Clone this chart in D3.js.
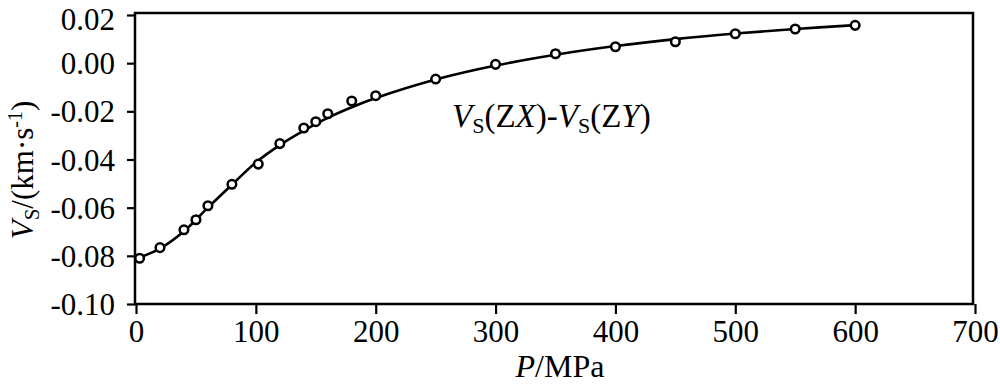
<!DOCTYPE html>
<html>
<head>
<meta charset="utf-8">
<script src="https://cdn.jsdelivr.net/npm/d3@7"></script>
<style>
  html, body { margin: 0; padding: 0; background: #fff; }
  svg { display: block; }
  text { font-family: "Liberation Serif", "Times New Roman", serif; fill: #000; }
</style>
</head>
<body>
<svg id="chart" width="1000" height="388"></svg>
<script>
// Measured points: pressure (MPa) and Vs(ZX)-Vs(ZY) (km/s)
const pressure = [3, 20, 40, 50, 60, 80, 102, 120, 140, 150, 160, 180, 200, 250, 300, 350, 400, 450, 500, 550, 600];
const vsDiff = [-0.0810, -0.0766, -0.0692, -0.0650, -0.0592, -0.0503, -0.0419, -0.0334, -0.0269, -0.0243, -0.0210, -0.0157, -0.0135, -0.0066, -0.0005, 0.0039, 0.0068, 0.0089, 0.0122, 0.0142, 0.0157];

// Fitted curve
const curveP = [0, 20, 40, 60, 80, 100, 120, 140, 160, 180, 200, 250, 300, 350, 400, 450, 500, 550, 600];
const curveV = [-0.0812, -0.0770, -0.0698, -0.0600, -0.0505, -0.0412, -0.0340, -0.0280, -0.0227, -0.0183, -0.0145, -0.0068, -0.0010, 0.0035, 0.0071, 0.0100, 0.0123, 0.0142, 0.0158];

const xTicks = [0, 100, 200, 300, 400, 500, 600, 700];
const yTicks = [-0.10, -0.08, -0.06, -0.04, -0.02, 0.00, 0.02];

const svg = d3.select("#chart");
const frameL = 135, frameR = 973, frameT = 13, frameB = 304;

const x = d3.scaleLinear().domain([0, 700]).range([136, 975]);
const y = d3.scaleLinear().domain([-0.10, 0.02]).range([304, 15]);

// Frame
svg.append("rect")
  .attr("x", frameL).attr("y", frameT)
  .attr("width", frameR - frameL).attr("height", frameB - frameT)
  .attr("fill", "none").attr("stroke", "#000").attr("stroke-width", 2.5);

// X axis
const xAxis = svg.append("g")
  .attr("transform", `translate(0,${frameB})`)
  .call(d3.axisBottom(x).tickValues(xTicks).tickSize(10).tickPadding(6).tickFormat(d3.format("d")));
xAxis.select(".domain").remove();
xAxis.selectAll(".tick line").attr("stroke", "#000").attr("stroke-width", 2.2);
xAxis.selectAll(".tick text")
  .attr("font-size", 31)
  .attr("font-family", '"Liberation Serif", "Times New Roman", serif')
  .attr("dy", "0.71em");

// Y axis
const yAxis = svg.append("g")
  .attr("transform", `translate(${frameL},0)`)
  .call(d3.axisLeft(y).tickValues(yTicks).tickSize(8).tickPadding(12).tickFormat(d3.format(".2f")));
yAxis.select(".domain").remove();
yAxis.selectAll(".tick line").attr("stroke", "#000").attr("stroke-width", 2.2);
yAxis.selectAll(".tick text")
  .attr("font-size", 31)
  .attr("font-family", '"Liberation Serif", "Times New Roman", serif')
  .attr("dy", d => d === 0.02 ? 14 : 10.5)
  .text(d => d3.format(".2f")(d).replace("−", "-"));

// Curve
const line = d3.line()
  .x((d, i) => x(curveP[i]))
  .y((d, i) => y(curveV[i]))
  .curve(d3.curveCatmullRom.alpha(0.5));
svg.append("path")
  .datum(curveV)
  .attr("d", line)
  .attr("fill", "none")
  .attr("stroke", "#000")
  .attr("stroke-width", 2.6);

// Points
svg.append("g").selectAll("circle")
  .data(vsDiff)
  .join("circle")
  .attr("cx", (d, i) => x(pressure[i]))
  .attr("cy", d => y(d))
  .attr("r", 4.3)
  .attr("fill", "#fff")
  .attr("stroke", "#000")
  .attr("stroke-width", 2.5);

// Annotation
const ann = svg.append("text")
  .attr("x", 452).attr("y", 127)
  .attr("font-size", 33);
ann.append("tspan").attr("font-style", "italic").text("V");
ann.append("tspan").attr("font-size", 22).attr("dy", 6).text("S");
ann.append("tspan").attr("dy", -6).text("(Z");
ann.append("tspan").attr("font-style", "italic").text("X");
ann.append("tspan").text(")-");
ann.append("tspan").attr("font-style", "italic").text("V");
ann.append("tspan").attr("font-size", 22).attr("dy", 6).text("S");
ann.append("tspan").attr("dy", -6).text("(Z");
ann.append("tspan").attr("font-style", "italic").text("Y");
ann.append("tspan").text(")");

// X title
const xt = svg.append("text")
  .attr("x", 560).attr("y", 377)
  .attr("text-anchor", "middle")
  .attr("font-size", 32);
xt.append("tspan").attr("font-style", "italic").text("P");
xt.append("tspan").text("/MPa");

// Y title
const yt = svg.append("text")
  .attr("transform", "translate(33,170) rotate(-90)")
  .attr("text-anchor", "middle")
  .attr("font-size", 31);
yt.append("tspan").attr("font-style", "italic").text("V");
yt.append("tspan").attr("font-size", 21).attr("dy", 6).text("S");
yt.append("tspan").attr("dy", -6).text("/(km·s");
yt.append("tspan").attr("font-size", 20).attr("dy", -11).text("-1");
yt.append("tspan").attr("dy", 11).text(")");
</script>
</body>
</html>
